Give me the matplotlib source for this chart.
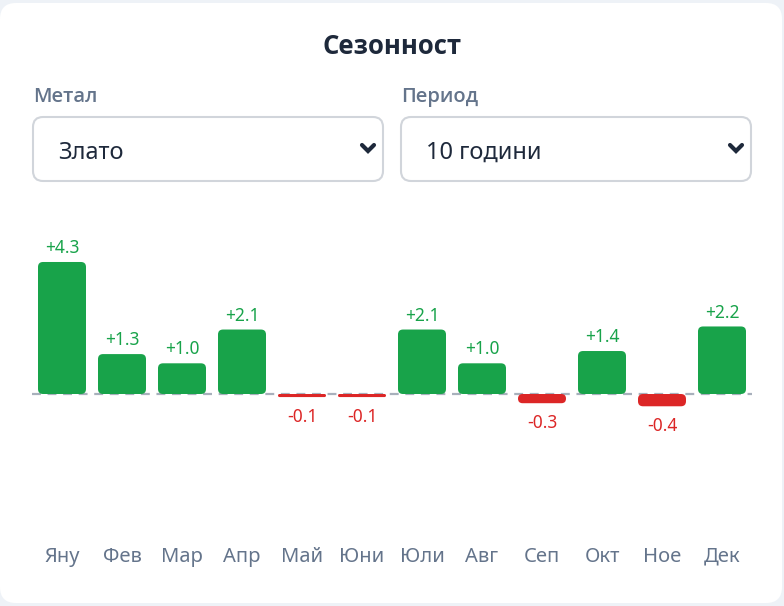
import matplotlib
matplotlib.use("Agg")
import matplotlib.pyplot as plt
from matplotlib.patches import FancyBboxPatch

plt.rcParams['font.family'] = ['Noto Sans', 'DejaVu Sans']

# data
months = ['Яну', 'Фев', 'Мар', 'Апр', 'Май', 'Юни', 'Юли', 'Авг', 'Сеп', 'Окт', 'Ное', 'Дек']
changes = [4.3, 1.3, 1.0, 2.1, -0.1, -0.1, 2.1, 1.0, -0.3, 1.4, -0.4, 2.2]
title = 'Сезонност'
metal_label, metal_value = 'Метал', 'Злато'
period_label, period_value = 'Период', '10 години'

GREEN = '#18a34a'
RED = '#dc2626'
SLATE = '#64748b'
DARK = '#1e293b'
BOLD_FONT = ['Open Sans', 'DejaVu Sans']

W, H = 784, 606
fig = plt.figure(figsize=(W / 100, H / 100), dpi=100)
fig.patch.set_facecolor('#eef2f7')

# background layer in pixel coordinates for the card / controls
bg = fig.add_axes([0, 0, 1, 1])
bg.set_xlim(0, W)
bg.set_ylim(H, 0)
bg.axis('off')

card = FancyBboxPatch((0, 3), 782, 600, boxstyle='round,pad=0,rounding_size=16',
                      fc='white', ec='none')
bg.add_patch(card)

bg.text(392, 47, title, ha='center', va='center', fontsize=18.5,
        fontweight='bold', family=BOLD_FONT, color=DARK)


def dropdown(x, label, value):
    bg.text(x, 97, label, ha='left', va='center', fontsize=14.5,
            fontweight='semibold', family=BOLD_FONT, color=SLATE)
    box = FancyBboxPatch((x, 117), 350, 64, boxstyle='round,pad=0,rounding_size=10',
                         fc='white', ec='#d1d5db', lw=1.5)
    bg.add_patch(box)
    bg.text(x + 25, 153, value, ha='left', va='center', fontsize=17, color=DARK)
    cx = x + 335
    bg.plot([cx - 6, cx, cx + 6], [145, 151, 145], color=DARK, lw=3,
            solid_capstyle='round', solid_joinstyle='miter')


dropdown(33, metal_label, metal_value)
dropdown(401, period_label, period_value)

# chart
top_px, bot_px, left_px, right_px = 230, 540, 32, 752
ax = fig.add_axes([left_px / W, (H - bot_px) / H, (right_px - left_px) / W, (bot_px - top_px) / H])
ax.patch.set_alpha(0)
ax.set_xlim(-0.5, len(months) - 0.5)
px_per_unit = 30.7
ax.set_ylim(-(bot_px - 394) / px_per_unit, (394 - top_px) / px_per_unit)
for s in ax.spines.values():
    s.set_visible(False)
ax.set_yticks([])
ax.set_xticks(range(len(months)))
ax.set_xticklabels(months, fontsize=14.5, color=SLATE)
ax.tick_params(axis='x', length=0, pad=5)

ax.axhline(0, color='#a8b0bc', lw=1.6, dashes=(4, 3), zorder=1)

colors = [GREEN if v >= 0 else RED for v in changes]
bars = ax.bar(range(len(months)), changes, width=0.8, color=colors, zorder=2)

# replace plain bars with rounded ones
bbox = ax.get_window_extent()
x0, x1 = ax.get_xlim()
y0, y1 = ax.get_ylim()
ppx = bbox.width / (x1 - x0)
ppy = bbox.height / (y1 - y0)
for b in bars:
    x, y = b.get_xy()
    w, h = b.get_width(), b.get_height()
    if h < 0:
        y, h = y + h, -h
    r = min(5, h * ppy / 2, w * ppx / 2)
    p = FancyBboxPatch((x, y), w, h, boxstyle='round,pad=0,rounding_size=%f' % (r / ppx),
                       mutation_aspect=ppx / ppy, fc=b.get_facecolor(), ec='none', zorder=2)
    b.remove()
    ax.add_patch(p)

for i, v in enumerate(changes):
    if v >= 0:
        ax.annotate('+%.1f' % v, (i, v), xytext=(0, 10), textcoords='offset points',
                    ha='center', va='center', fontsize=12.5, color=GREEN)
    else:
        ax.annotate('%.1f' % v, (i, v), xytext=(0, -14), textcoords='offset points',
                    ha='center', va='center', fontsize=12.5, color=RED)

fig.savefig('out.png', dpi=100, facecolor=fig.get_facecolor())
